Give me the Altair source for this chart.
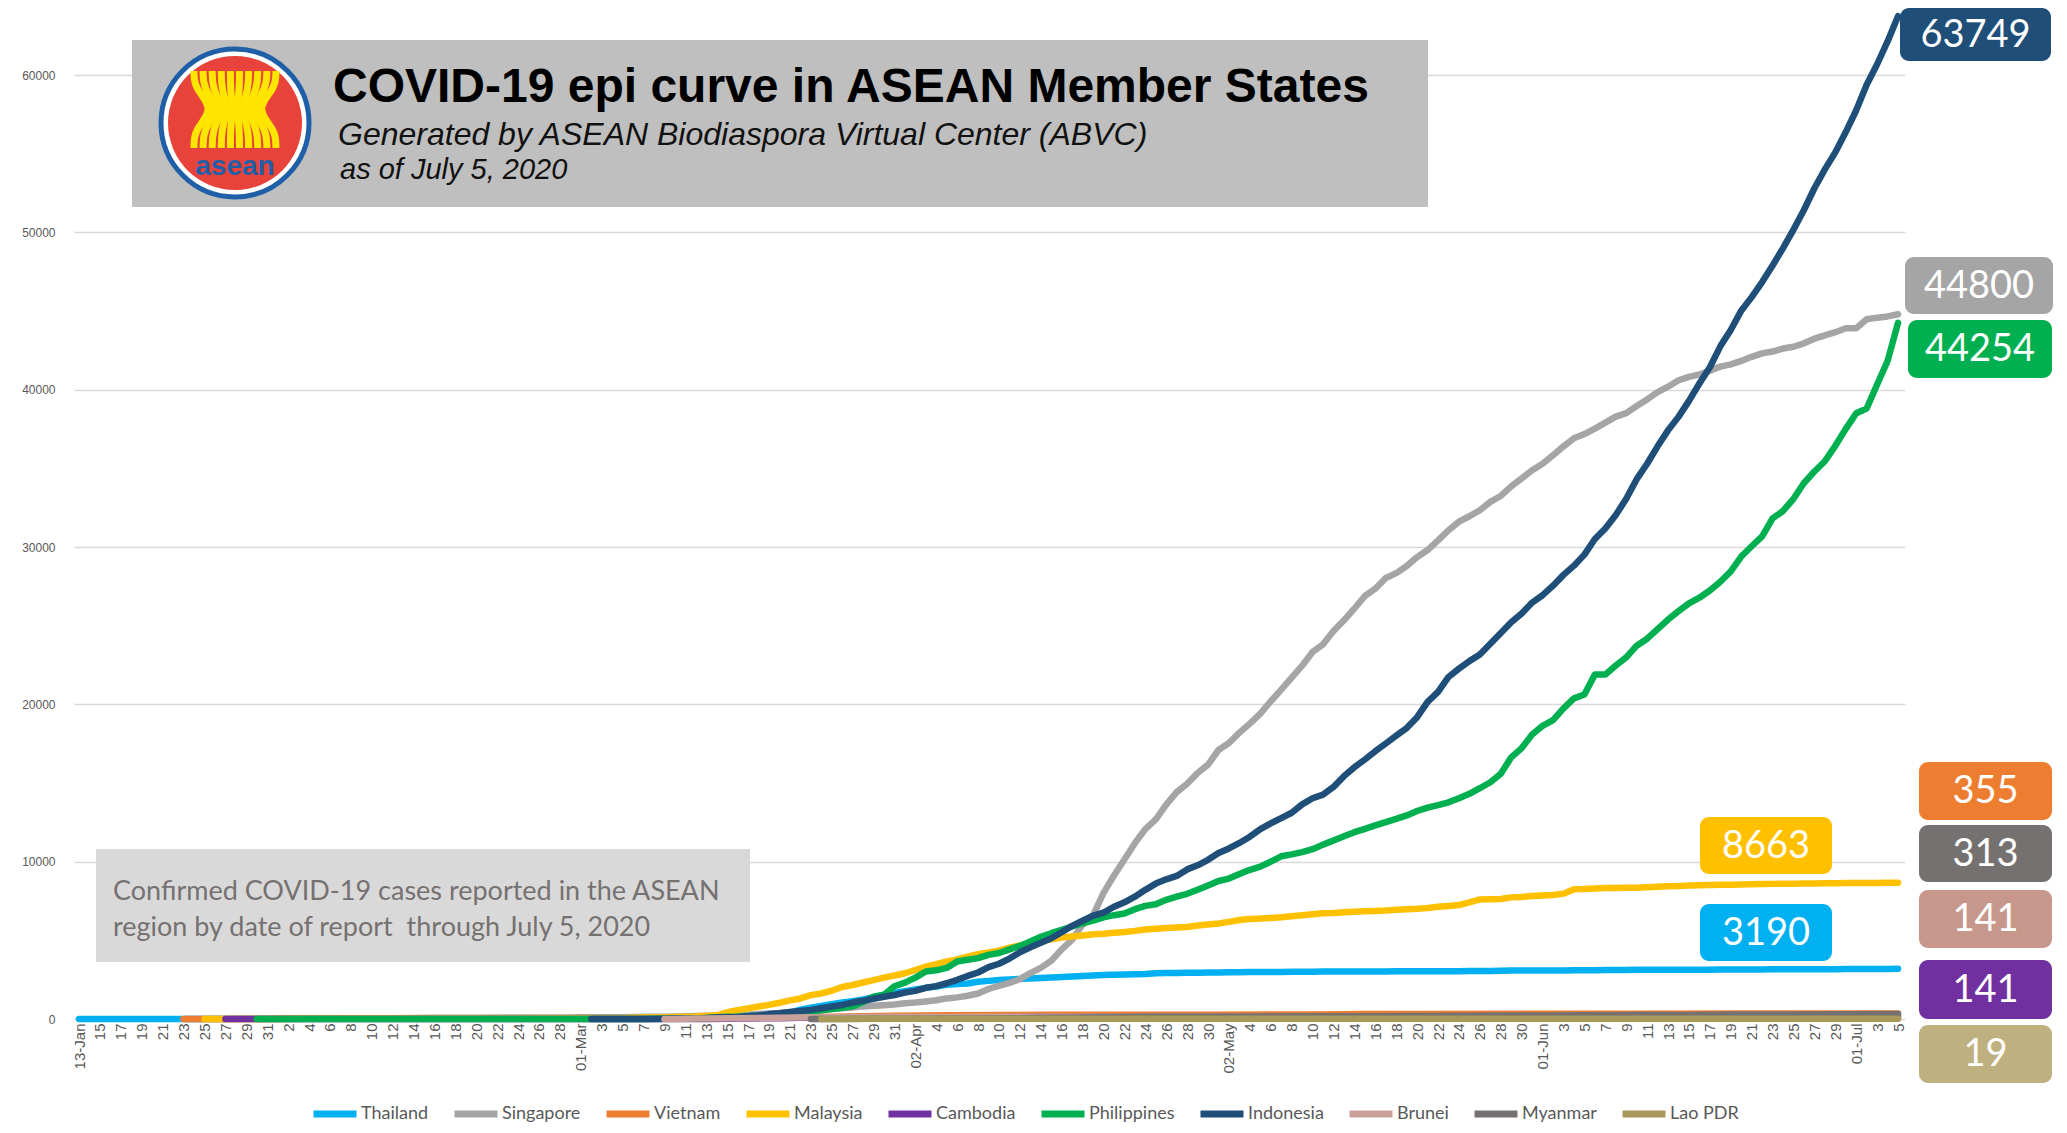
import altair as alt
import pandas as pd

# ---------------- data ----------------
series_names = ["Thailand", "Singapore", "Vietnam", "Malaysia", "Cambodia",
                "Philippines", "Indonesia", "Brunei", "Myanmar", "Lao PDR"]
line_colors = ["#00b0f0", "#a5a5a5", "#ed7d31", "#ffc000", "#7030a0",
               "#00b050", "#1f4e79", "#c9a19a", "#767171", "#a8985a"]
box_colors = ["#00b0f0", "#a5a5a5", "#ed7d31", "#ffc000", "#7030a0",
              "#00b050", "#1f4e79", "#c8978c", "#767171", "#bfb080"]

thailand_early_dates = ["2020-01-13", "2020-01-17", "2020-01-22", "2020-01-25", "2020-01-28",
                        "2020-01-31", "2020-02-04", "2020-02-08", "2020-02-17", "2020-02-25", "2020-02-29"]
thailand_early = [1, 2, 4, 7, 14, 19, 25, 32, 35, 40, 42]
thailand_daily_start = "2020-03-01"
thailand_daily = [
    42, 43, 43, 43, 47, 48, 50, 50, 50, 53, 59, 70, 75, 82, 114, 147, 177, 212, 272, 322, 411, 599,
    721, 827, 934, 1045, 1136, 1245, 1388, 1524, 1651,
    1771, 1875, 1978, 2067, 2169, 2220, 2258, 2369, 2423, 2473, 2518, 2551, 2579, 2613, 2643, 2672,
    2700, 2733, 2765, 2792, 2811, 2826, 2839, 2854, 2907, 2922, 2931, 2938, 2947, 2954,
    2960, 2966, 2969, 2987, 2988, 2989, 2992, 3000, 3004, 3009, 3015, 3017, 3017, 3018, 3025, 3025,
    3026, 3031, 3033, 3034, 3037, 3037, 3040, 3042, 3045, 3054, 3054, 3065, 3076, 3077, 3081,
    3082, 3083, 3084, 3101, 3102, 3104, 3112, 3119, 3121, 3125, 3125, 3125, 3134, 3135, 3135, 3135,
    3135, 3141, 3146, 3148, 3151, 3151, 3156, 3157, 3158, 3162, 3162, 3167, 3169, 3171,
    3173, 3179, 3180, 3185, 3190]

singapore_early_dates = ["2020-01-23", "2020-01-27", "2020-01-31", "2020-02-04", "2020-02-08",
                         "2020-02-12", "2020-02-16", "2020-02-20", "2020-02-24", "2020-02-29"]
singapore_early = [1, 5, 13, 24, 40, 50, 75, 84, 90, 102]
singapore_daily_start = "2020-03-01"
singapore_daily = [
    106, 108, 110, 112, 117, 130, 138, 150, 150, 160, 178, 187, 200, 212, 226, 243, 266, 313, 345,
    385, 432, 455, 509, 558, 631, 683, 732, 802, 844, 879, 926,
    1000, 1049, 1114, 1189, 1309, 1375, 1481, 1623, 1910, 2108, 2299, 2532, 2918, 3252, 3699, 4427,
    5050, 5992, 6588, 8014, 9125, 10141, 11178, 12075, 12693, 13624, 14423, 14951, 15641, 16169,
    17101, 17548, 18205, 18778, 19410, 20198, 20939, 21707, 22460, 23336, 23822, 24671, 25346,
    26098, 26891, 27356, 28038, 28343, 28794, 29364, 29812, 30426, 31068, 31616, 31960, 32343,
    32876, 33249, 33860, 34366, 34884,
    35292, 35836, 36405, 36922, 37183, 37527, 37910, 38296, 38514, 38965, 39387, 39850, 40197,
    40604, 40818, 40969, 41216, 41473, 41615, 41833, 42095, 42313, 42432, 42623, 42736, 42955,
    43246, 43459, 43661, 43907,
    43907, 44479, 44585, 44664, 44800]

vietnam_dates = ["2020-01-23", "2020-01-31", "2020-02-04", "2020-02-07", "2020-02-13", "2020-03-06",
                 "2020-03-08", "2020-03-10", "2020-03-13", "2020-03-16", "2020-03-19", "2020-03-22",
                 "2020-03-25", "2020-03-28", "2020-03-31", "2020-04-05", "2020-04-10", "2020-04-15",
                 "2020-04-30", "2020-05-10", "2020-05-15", "2020-05-20", "2020-05-31", "2020-06-10",
                 "2020-06-20", "2020-06-30", "2020-07-05"]
vietnam = [2, 5, 9, 13, 16, 17, 30, 35, 47, 61, 85, 113, 141, 174, 212, 241, 257, 267, 270, 288,
           312, 324, 328, 332, 349, 355, 355]

malaysia_early_dates = ["2020-01-25", "2020-01-29", "2020-02-04", "2020-02-06", "2020-02-09",
                        "2020-02-15", "2020-02-16", "2020-02-28"]
malaysia_early = [3, 7, 10, 14, 16, 19, 22, 25]
malaysia_daily_start = "2020-03-01"
malaysia_daily = [
    29, 29, 36, 50, 55, 83, 93, 99, 117, 129, 149, 158, 197, 238, 428, 566, 673, 790, 900, 1030,
    1183, 1306, 1518, 1624, 1796, 2031, 2161, 2320, 2470, 2626, 2766,
    2908, 3116, 3333, 3483, 3662, 3793, 3963, 4119, 4228, 4346, 4530, 4683, 4817, 4987, 5072, 5182,
    5251, 5305, 5389, 5425, 5482, 5532, 5603, 5691, 5742, 5780, 5820, 5851, 5945, 6002,
    6071, 6176, 6298, 6353, 6383, 6428, 6467, 6535, 6589, 6656, 6726, 6742, 6779, 6819, 6855, 6872,
    6894, 6941, 6978, 7009, 7059, 7137, 7185, 7245, 7417, 7604, 7619, 7629, 7732, 7762, 7819,
    7857, 7877, 7970, 8247, 8266, 8303, 8322, 8329, 8336, 8338, 8369, 8402, 8445, 8453, 8494, 8505,
    8515, 8529, 8535, 8556, 8572, 8587, 8590, 8596, 8600, 8606, 8616, 8634, 8637, 8639,
    8640, 8643, 8648, 8658, 8663]

cambodia_dates = ["2020-01-27", "2020-03-07", "2020-03-10", "2020-03-13", "2020-03-15", "2020-03-16",
                  "2020-03-17", "2020-03-20", "2020-03-22", "2020-03-25", "2020-03-28", "2020-03-31",
                  "2020-04-05", "2020-04-10", "2020-04-15", "2020-05-31", "2020-06-10", "2020-06-20",
                  "2020-06-25", "2020-06-30", "2020-07-05"]
cambodia = [1, 2, 3, 7, 12, 24, 33, 51, 84, 96, 103, 109, 114, 119, 122, 125, 126, 129, 130, 141, 141]

philippines_early_dates = ["2020-01-30", "2020-02-02", "2020-02-05", "2020-02-29"]
philippines_early = [1, 2, 3, 3]
philippines_daily_start = "2020-03-01"
philippines_daily = [
    3, 3, 3, 3, 5, 5, 6, 10, 20, 33, 49, 52, 64, 111, 140, 142, 187, 202, 217, 230, 307, 380, 462,
    552, 636, 707, 803, 1075, 1418, 1546, 2084,
    2311, 2633, 3018, 3094, 3246, 3660, 3764, 3870, 4076, 4195, 4428, 4648, 4932, 5223, 5453, 5660,
    5878, 6087, 6259, 6459, 6599, 6710, 6981, 7192, 7294, 7579, 7777, 7958, 8212, 8488,
    8772, 8928, 9223, 9485, 9684, 10004, 10343, 10463, 10610, 10794, 11086, 11350, 11618, 11876,
    12091, 12305, 12513, 12718, 12942, 13221, 13434, 13597, 13777, 14035, 14319, 14669, 15049,
    15588, 16634, 17224, 18086,
    18638, 18997, 19748, 20382, 20626, 21895, 21895, 22474, 22992, 23732, 24175, 24787, 25392,
    25930, 26420, 26781, 27238, 27799, 28459, 29400, 30052, 30682, 31825, 32295, 33069, 34073,
    34803, 35455, 36438, 37514,
    38511, 38805, 40336, 41830, 44254]

indonesia_daily_start = "2020-03-02"
indonesia_daily = [
    2, 2, 2, 2, 4, 4, 6, 19, 27, 34, 34, 69, 96, 117, 134, 172, 227, 311, 369, 450, 514, 579, 686,
    790, 893, 1046, 1155, 1285, 1414, 1528,
    1677, 1790, 1986, 2092, 2273, 2491, 2738, 2956, 3293, 3512, 3842, 4241, 4557, 4839, 5136, 5516,
    5923, 6248, 6575, 6760, 7135, 7418, 7775, 8211, 8607, 8882, 9096, 9511, 9771, 10118,
    10551, 10843, 11192, 11587, 12071, 12438, 12776, 13112, 13645, 14032, 14265, 14749, 15438,
    16006, 16496, 17025, 17514, 18010, 18496, 19189, 20162, 20796, 21745, 22271, 22750, 23165,
    23851, 24538, 25216, 25773, 26473,
    26940, 27549, 28233, 28818, 29521, 30514, 31186, 32033, 33076, 34316, 35295, 36406, 37420,
    38277, 39294, 40400, 41431, 42762, 43803, 45029, 45891, 46845, 47896, 49009, 50187, 51427,
    52812, 54010, 55092, 56385,
    57770, 59394, 60695, 62142, 63749]

brunei_dates = ["2020-03-09", "2020-03-10", "2020-03-11", "2020-03-12", "2020-03-13", "2020-03-15",
                "2020-03-18", "2020-03-20", "2020-03-23", "2020-03-25", "2020-03-28", "2020-03-31",
                "2020-04-05", "2020-04-15", "2020-04-20", "2020-05-10", "2020-07-05"]
brunei = [1, 6, 11, 25, 37, 50, 68, 78, 104, 114, 126, 129, 135, 136, 138, 141, 141]

myanmar_dates = ["2020-03-23", "2020-03-26", "2020-03-29", "2020-03-31", "2020-04-02", "2020-04-08",
                 "2020-04-12", "2020-04-13", "2020-04-14", "2020-04-15", "2020-04-18", "2020-04-20",
                 "2020-04-24", "2020-04-28", "2020-04-30", "2020-05-05", "2020-05-10", "2020-05-15",
                 "2020-05-20", "2020-05-25", "2020-05-31", "2020-06-05", "2020-06-10", "2020-06-15",
                 "2020-06-20", "2020-06-25", "2020-06-30", "2020-07-05"]
myanmar = [2, 5, 10, 15, 20, 27, 41, 62, 74, 85, 98, 119, 139, 150, 151, 161, 178, 182, 191, 201,
           224, 236, 261, 262, 290, 293, 303, 313]

lao_dates = ["2020-03-24", "2020-03-25", "2020-03-26", "2020-03-28", "2020-03-30", "2020-04-01",
             "2020-04-05", "2020-04-07", "2020-04-08", "2020-04-10", "2020-07-05"]
lao = [2, 3, 6, 8, 9, 10, 11, 15, 16, 19, 19]

parts = {
    "Thailand": (thailand_early_dates, thailand_early, thailand_daily_start, thailand_daily),
    "Singapore": (singapore_early_dates, singapore_early, singapore_daily_start, singapore_daily),
    "Vietnam": (vietnam_dates, vietnam, None, []),
    "Malaysia": (malaysia_early_dates, malaysia_early, malaysia_daily_start, malaysia_daily),
    "Cambodia": (cambodia_dates, cambodia, None, []),
    "Philippines": (philippines_early_dates, philippines_early, philippines_daily_start, philippines_daily),
    "Indonesia": ([], [], indonesia_daily_start, indonesia_daily),
    "Brunei": (brunei_dates, brunei, None, []),
    "Myanmar": (myanmar_dates, myanmar, None, []),
    "Lao PDR": (lao_dates, lao, None, []),
}

rows = []
last_value = {}
for name in series_names:
    ed, ev, ds, dv = parts[name]
    for d, v in zip(ed, ev):
        rows.append({"country": name, "date": d, "cases": v})
    for i, v in enumerate(dv):
        d = (pd.Timestamp(ds) + pd.Timedelta(days=i)).strftime("%Y-%m-%d")
        rows.append({"country": name, "date": d, "cases": v})
    last_value[name] = rows[-1]["cases"]
df = pd.DataFrame(rows)

# ---------------- layout ----------------
W, H = 1831, 1011
PAD = {"left": 66, "top": 0, "right": 154, "bottom": 106}
x_start = int(pd.Timestamp("2020-01-12 12:30", tz="UTC").value // 10**6)
x_end = int(pd.Timestamp("2020-07-05 16:00", tz="UTC").value // 10**6)
tick_ms = [int(t.value // 10**6) for t in pd.date_range("2020-01-13", "2020-07-05", freq="2D", tz="UTC")]
y_ticks = [0, 10000, 20000, 30000, 40000, 50000, 60000]

one = pd.DataFrame({"k": [0]})
TXT = "#595959"

label_expr = ("(utcmonth(datum.value) == 0 && utcdate(datum.value) == 13) || "
              "(utcmonth(datum.value) >= 2 && utcdate(datum.value) <= 2) ? "
              "utcFormat(datum.value, '%d-%b') : '' + utcdate(datum.value)")

lines = alt.Chart(df).mark_line(strokeWidth=6.5, strokeCap="round", strokeJoin="round").encode(
    x=alt.X("date:T", title=None,
            scale=alt.Scale(domain=[x_start, x_end]),
            axis=alt.Axis(values=tick_ms, labelExpr=label_expr, labelAngle=270, labelOverlap=False,
                          labelFlush=False, ticks=False, domain=False, grid=False, labelPadding=4,
                          labelFont="Liberation Sans", labelFontSize=15, labelColor=TXT)),
    y=alt.Y("cases:Q", title=None,
            scale=alt.Scale(domain=[0, 64270], nice=False),
            axis=alt.Axis(values=y_ticks, format="d", grid=True, gridColor="#d9d9d9", gridWidth=1.3,
                          domain=False, ticks=False, labelPadding=19, labelFlush=False,
                          labelFont="Liberation Sans", labelFontSize=12,
                          labelColor=TXT)),
    color=alt.Color("country:N", sort=series_names,
                    scale=alt.Scale(domain=series_names, range=line_colors),
                    legend=alt.Legend(orient="none", legendX=236, legendY=1081, direction="horizontal",
                                      title=None, symbolType="stroke", symbolSize=1849,
                                      symbolStrokeWidth=7, labelFont="Lato", labelFontSize=18,
                                      labelColor=TXT, columnPadding=11, labelOffset=1,
                                      symbolLimit=0)),
    detail="country:N",
)

layers = []
# title box and logo
layers.append(alt.Chart(one).mark_rect(color="#bfbfbf").encode(
    x=alt.value(58), x2=alt.value(1354), y=alt.value(32), y2=alt.value(199)))
cx, cy = 161, 115
layers.append(alt.Chart(one).mark_point(shape="circle", filled=True, color="white", opacity=1,
                                        size=(2 * 75) ** 2).encode(x=alt.value(cx), y=alt.value(cy)))
layers.append(alt.Chart(one).mark_point(shape="circle", filled=False, color="#1f5fa8", opacity=1,
                                        strokeWidth=5, size=(2 * 74) ** 2).encode(x=alt.value(cx), y=alt.value(cy)))
layers.append(alt.Chart(one).mark_point(shape="circle", filled=True, color="#e8433a", opacity=1,
                                        size=(2 * 67) ** 2).encode(x=alt.value(cx), y=alt.value(cy)))
stalk_rows = []
for i in range(10):
    xt = 120 + i * 9.1
    xw = 141 + i * 4.4
    for j, (px, py) in enumerate([(xt, 63), (xt, 80), (xw, 101), (xt, 122), (xt, 140)]):
        stalk_rows.append({"s": i, "o": j, "px": px, "py": py})
layers.append(alt.Chart(pd.DataFrame(stalk_rows)).mark_line(
    color="#ffe600", strokeWidth=7, interpolate="basis").encode(
    x=alt.X("px:Q", scale=None, axis=None), y=alt.Y("py:Q", scale=None, axis=None),
    detail="s:N", order="o:Q"))
layers.append(alt.Chart(one).mark_text(text="asean", font="Liberation Sans", fontWeight="bold",
                                       fontSize=28, color="#1f5fa8", align="center",
                                       baseline="middle").encode(x=alt.value(cx), y=alt.value(159)))
layers.append(alt.Chart(one).mark_text(text="COVID-19 epi curve in ASEAN Member States",
                                       font="Liberation Sans", fontWeight="bold",
                                       fontSize=48, color="black", align="left",
                                       baseline="alphabetic").encode(x=alt.value(259), y=alt.value(94)))
layers.append(alt.Chart(one).mark_text(text="Generated by ASEAN Biodiaspora Virtual Center (ABVC)",
                                       font="Liberation Sans", fontStyle="italic",
                                       fontSize=32, color="#111111", align="left",
                                       baseline="alphabetic").encode(x=alt.value(264), y=alt.value(137)))
layers.append(alt.Chart(one).mark_text(text="as of July 5, 2020",
                                       font="Liberation Sans", fontStyle="italic",
                                       fontSize=29, color="#111111", align="left",
                                       baseline="alphabetic").encode(x=alt.value(266), y=alt.value(171)))
# subtitle box
layers.append(alt.Chart(one).mark_rect(color="#d9d9d9").encode(
    x=alt.value(22), x2=alt.value(676), y=alt.value(841), y2=alt.value(954)))
layers.append(alt.Chart(one).mark_text(text="Confirmed COVID-19 cases reported in the ASEAN",
                                       font="Lato", fontSize=27, color="#767171", align="left",
                                       baseline="alphabetic").encode(x=alt.value(39), y=alt.value(892)))
layers.append(alt.Chart(one).mark_text(text="region by date of report \u00a0through July 5, 2020",
                                       font="Lato", fontSize=27, color="#767171", align="left",
                                       baseline="alphabetic").encode(x=alt.value(39), y=alt.value(928)))

layers.append(lines)

# end-value boxes
box_pos = {
    "Indonesia": (1826, 1977, 0, 53),
    "Singapore": (1831, 1979, 249, 306),
    "Philippines": (1834, 1978, 312, 370),
    "Vietnam": (1845, 1978, 754, 812),
    "Myanmar": (1845, 1978, 817, 874),
    "Brunei": (1845, 1978, 882, 940),
    "Cambodia": (1845, 1978, 952, 1011),
    "Lao PDR": (1845, 1978, 1017, 1075),
    "Malaysia": (1626, 1758, 809, 866),
    "Thailand": (1626, 1758, 896, 953),
}
for name in series_names:
    x1, x2, y1, y2 = box_pos[name]
    col = box_colors[series_names.index(name)]
    layers.append(alt.Chart(one).mark_rect(color=col, cornerRadius=9).encode(
        x=alt.value(x1), x2=alt.value(x2), y=alt.value(y1), y2=alt.value(y2)))
    layers.append(alt.Chart(one).mark_text(text=str(last_value[name]), font="Lato", fontSize=38,
                                           color="white", align="center", baseline="middle").encode(
        x=alt.value((x1 + x2) / 2), y=alt.value((y1 + y2) / 2 + 1)))

chart = alt.layer(*layers).properties(
    width=W, height=H, padding=PAD, background="white",
    autosize=alt.AutoSizeParams(type="none"),
).configure_view(stroke=None)

chart.save("out.html", embed_options={"renderer": "svg", "actions": False})
